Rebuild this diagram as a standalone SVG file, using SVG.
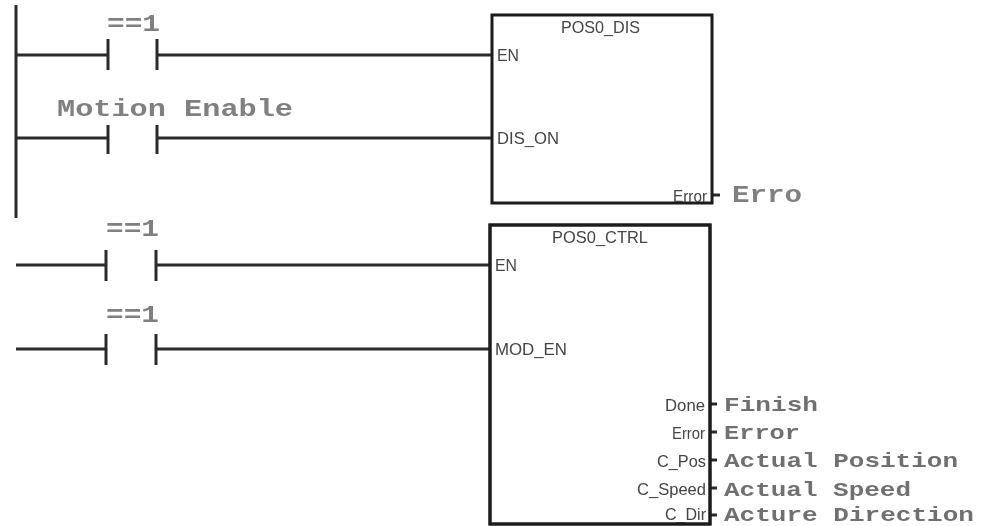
<svg xmlns="http://www.w3.org/2000/svg" width="982" height="526" viewBox="0 0 982 526">
<defs><filter id="soft" filterUnits="userSpaceOnUse" x="0" y="0" width="982" height="526"><feGaussianBlur stdDeviation="0.45"/></filter></defs>
<style>
.w{stroke:#2b2b2b;stroke-width:3;fill:none}
.c{stroke:#2b2b2b;stroke-width:3;fill:none}
.b{fill:#fff;stroke:#1c1c1c;stroke-width:3}
.e{fill:none;stroke:#1c1c1c;stroke-width:3}
.s{font-family:"Liberation Sans",sans-serif;font-size:17px;fill:#444}
.t{font-family:"Liberation Mono",monospace;font-size:24px;fill:#808080;font-weight:bold}
.u{font-family:"Liberation Mono",monospace;font-size:21px;fill:#707070;font-weight:bold}
</style>
<rect width="982" height="526" fill="#fff"/>
<g filter="url(#soft)">
<g id="connectors">
<path class="w" d="M16 5V218"/>
<path class="w" d="M16 55H107M158 55H492"/>
<path class="w" d="M16 138H107M158 138H492"/>
<path class="w" d="M16 265H107M157 265H490"/>
<path class="w" d="M16 349H107M157 349H490"/>
<path class="c" d="M108 39V70M157 39V70M108 125V154M157 125V154M106 250V281M156 250V281M106 334V365M156 334V365"/>
<path class="c" d="M712 195H720M710 404H717M710 432H717M710 460H717M710 488H717M710 515H717"/>
</g>
<g id="contact1"><text class="t" x="107" y="31" textLength="53" lengthAdjust="spacingAndGlyphs">==1</text></g>
<g id="contact2"><text class="t" x="57" y="116" textLength="236" lengthAdjust="spacingAndGlyphs">Motion Enable</text></g>
<g id="contact3"><text class="t" x="106" y="236" textLength="53" lengthAdjust="spacingAndGlyphs">==1</text></g>
<g id="contact4"><text class="t" x="106" y="322" textLength="53" lengthAdjust="spacingAndGlyphs">==1</text></g>
<g id="pos0-dis">
<rect class="b" x="492" y="15" width="220" height="188"/>
<text class="s" x="561" y="33" textLength="79" lengthAdjust="spacingAndGlyphs">POS0_DIS</text>
<text class="s" x="497" y="61" textLength="22" lengthAdjust="spacingAndGlyphs">EN</text>
<text class="s" x="497" y="144" textLength="62" lengthAdjust="spacingAndGlyphs">DIS_ON</text>
<text class="s" x="673" y="202" textLength="34" lengthAdjust="spacingAndGlyphs">Error</text>
<text class="t" x="732" y="202" textLength="70" lengthAdjust="spacingAndGlyphs">Erro</text>
</g>
<g id="pos0-ctrl">
<rect class="b" x="490" y="225" width="220" height="299"/>
<text class="s" x="552" y="243" textLength="96" lengthAdjust="spacingAndGlyphs">POS0_CTRL</text>
<text class="s" x="495" y="271" textLength="22" lengthAdjust="spacingAndGlyphs">EN</text>
<text class="s" x="495" y="355" textLength="72" lengthAdjust="spacingAndGlyphs">MOD_EN</text>
<text class="s" x="665" y="411" textLength="40" lengthAdjust="spacingAndGlyphs">Done</text>
<text class="s" x="672" y="439" textLength="33" lengthAdjust="spacingAndGlyphs">Error</text>
<text class="s" x="657" y="467" textLength="49" lengthAdjust="spacingAndGlyphs">C_Pos</text>
<text class="s" x="637" y="495" textLength="69" lengthAdjust="spacingAndGlyphs">C_Speed</text>
<text class="s" x="665" y="520" textLength="41" lengthAdjust="spacingAndGlyphs">C_Dir</text>
<text class="u" x="724" y="411" textLength="94" lengthAdjust="spacingAndGlyphs">Finish</text>
<text class="u" x="724" y="439" textLength="76" lengthAdjust="spacingAndGlyphs">Error</text>
<text class="u" x="724" y="467" textLength="234" lengthAdjust="spacingAndGlyphs">Actual Position</text>
<text class="u" x="724" y="496" textLength="187" lengthAdjust="spacingAndGlyphs">Actual Speed</text>
<text class="u" x="724" y="521" textLength="250" lengthAdjust="spacingAndGlyphs">Acture Direction</text>
<rect class="e" x="490" y="225" width="220" height="299"/>
</g>
</g>
</svg>
